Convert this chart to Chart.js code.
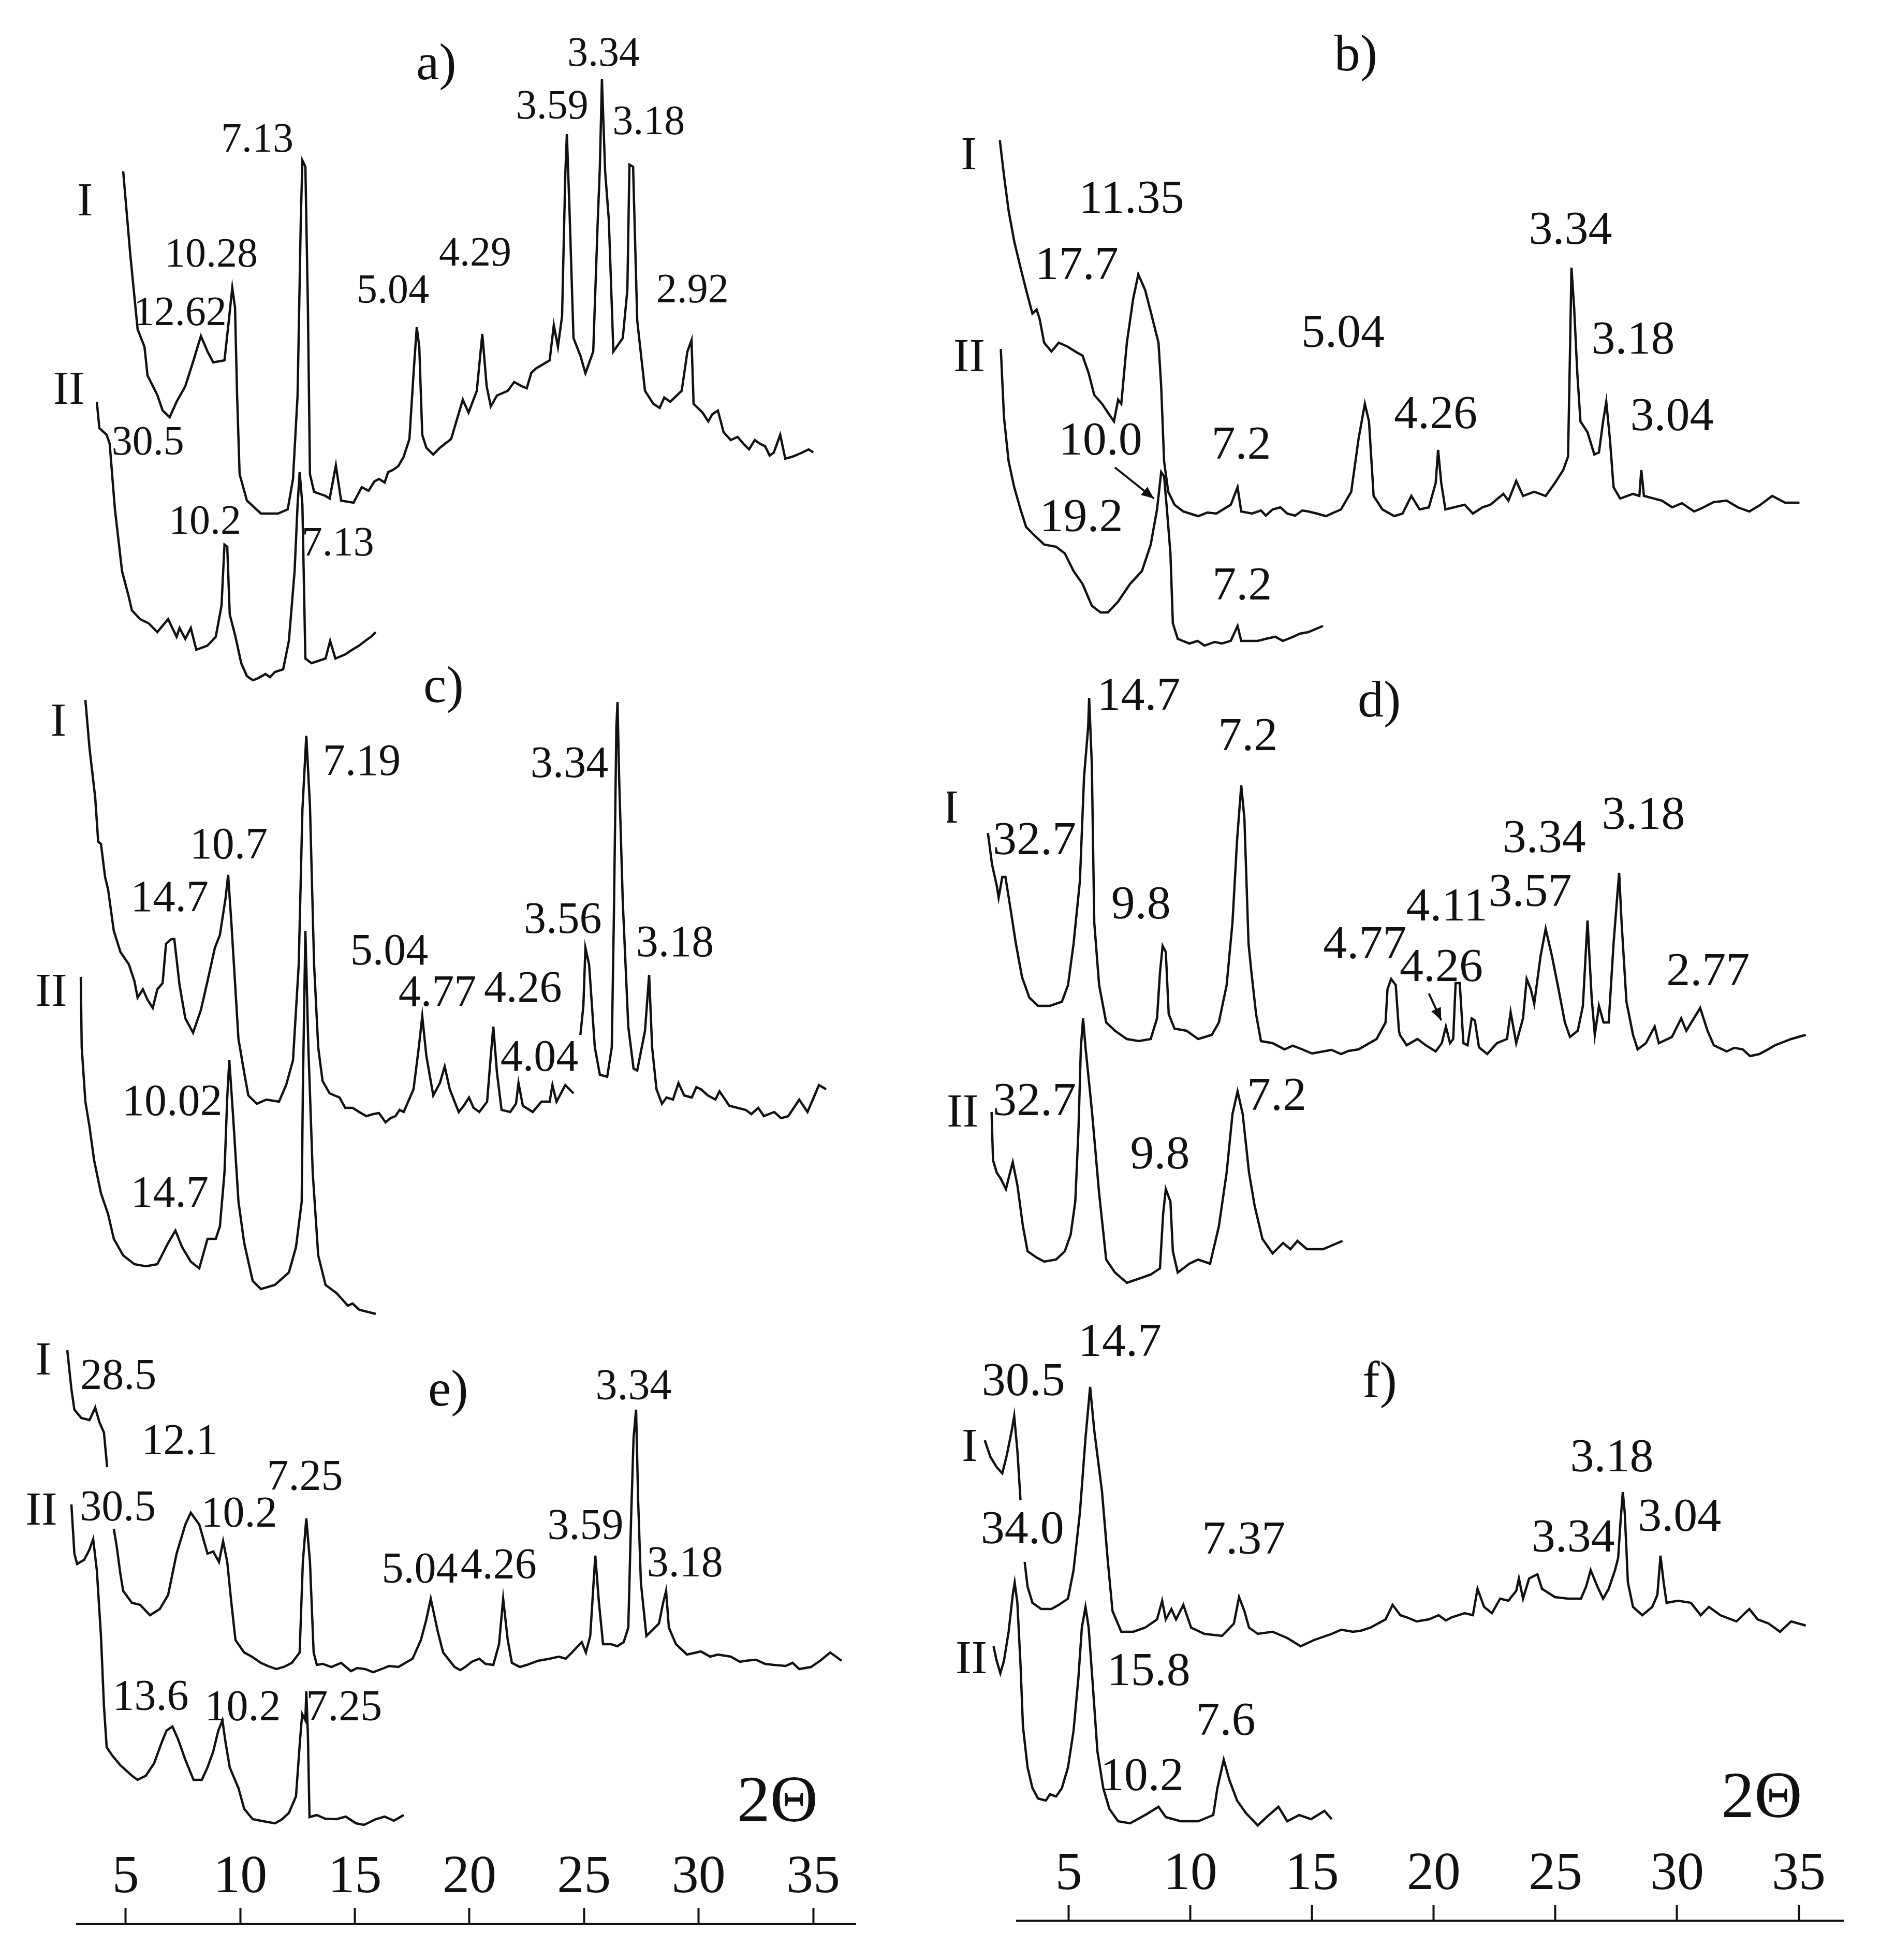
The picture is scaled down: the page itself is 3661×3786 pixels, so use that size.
<!DOCTYPE html>
<html lang="en">
<head>
<meta charset="UTF-8">
<title>XRD patterns a-f</title>
<script src="https://cdn.jsdelivr.net/npm/chart.js@4.4.0/dist/chart.umd.min.js"></script>
<style>
  body { margin: 0; background: #fff; }
  canvas { position: absolute; top: 0; }
</style>
</head>
<body>
<canvas id="left" width="1830" height="3786" style="left:0px"></canvas>
<canvas id="right" width="1831" height="3786" style="left:1830px"></canvas>
<script>
const SERIF = '"Liberation Serif", "Times New Roman", serif';
const thetaTicks = [5, 10, 15, 20, 25, 30, 35];
const thetaMin = 2.88, thetaMax = 36.85;

// traces: [2theta, intensity above own baseline]
const aI = [[4.89,669],[5.2,508],[5.52,364],[5.82,330],[5.95,275],[6.38,237],[6.61,207],[6.92,194],[7.22,224],[7.6,254],[7.96,304],[8.28,351],[8.57,321],[8.82,300],[9.31,304],[9.5,381],[9.65,444],[9.77,406],[9.86,237],[9.97,84],[10.29,33],[10.9,8],[11.64,8],[12.07,16],[12.3,75],[12.5,237],[12.64,576],[12.71,690],[12.84,678],[12.95,406],[13.04,84],[13.22,50],[13.72,42],[13.9,37],[14.17,101],[14.4,33],[14.94,29],[15.3,59],[15.6,52],[15.85,70],[16.05,75],[16.3,68],[16.45,88],[16.65,92],[16.9,100],[17.13,118],[17.38,152],[17.56,279],[17.7,368],[17.81,330],[17.94,160],[18.12,135],[18.42,122],[18.71,135],[19.2,152],[19.71,228],[19.96,203],[20.32,245],[20.56,355],[20.75,254],[20.93,215],[21.2,236],[21.67,245],[21.95,262],[22.28,254],[22.5,250],[22.7,280],[22.89,288],[23.2,296],[23.5,304],[23.68,372],[23.86,330],[24.04,389],[24.18,661],[24.25,741],[24.36,601],[24.54,347],[24.84,313],[25.06,279],[25.4,321],[25.6,576],[25.69,678],[25.78,847],[25.92,669],[26.08,576],[26.28,321],[26.69,347],[26.89,440],[26.98,682],[27.14,678],[27.32,381],[27.66,245],[28.02,220],[28.3,212],[28.5,232],[28.76,224],[29.26,245],[29.51,321],[29.69,343],[29.78,220],[30.17,203],[30.42,186],[30.6,200],[30.84,207],[31.09,165],[31.4,150],[31.7,156],[31.95,143],[32.2,132],[32.45,150],[32.67,143],[32.9,138],[33.1,120],[33.28,126],[33.56,160],[33.78,114],[34.1,118],[34.53,126],[34.8,132],[35.0,126]];
const aII = [[3.74,544],[3.85,493],[4.17,480],[4.3,463],[4.53,336],[4.84,217],[5.14,166],[5.27,141],[5.63,124],[6.0,116],[6.38,99],[6.85,124],[7.22,90],[7.35,107],[7.6,86],[7.84,107],[8.08,65],[8.57,73],[8.93,90],[9.18,150],[9.31,268],[9.43,264],[9.54,133],[9.79,90],[10.04,39],[10.29,14],[10.55,6],[10.78,10],[11.1,18],[11.3,12],[11.51,22],[11.87,27],[12.12,82],[12.37,217],[12.5,345],[12.59,408],[12.71,345],[12.84,48],[13.11,39],[13.72,48],[13.92,82],[14.15,48],[14.58,56],[14.85,64],[15.19,73],[15.45,82],[15.7,90],[15.91,99]];

const cI = [[3.24,808],[3.42,715],[3.67,619],[3.8,534],[3.92,530],[4.1,466],[4.23,442],[4.48,362],[4.77,321],[5.14,297],[5.38,265],[5.52,233],[5.75,249],[5.95,229],[6.18,213],[6.38,249],[6.61,261],[6.76,337],[6.99,346],[7.12,346],[7.35,257],[7.6,193],[7.94,165],[8.28,209],[8.57,265],[8.89,329],[9.11,354],[9.36,426],[9.47,470],[9.61,378],[9.92,153],[10.17,88],[10.35,44],[10.72,28],[11.14,36],[11.69,32],[12.0,64],[12.3,112],[12.55,297],[12.71,595],[12.88,739],[13.04,603],[13.22,297],[13.4,137],[13.59,72],[13.9,48],[14.33,40],[14.58,20],[14.9,20],[15.19,12],[15.5,4],[15.8,8],[16.05,10],[16.34,-8],[16.55,0],[16.77,4],[16.95,16],[17.13,12],[17.56,56],[17.79,137],[17.94,197],[18.12,120],[18.42,44],[18.71,68],[18.92,100],[19.14,56],[19.53,12],[19.75,24],[19.98,40],[20.18,20],[20.43,12],[20.77,32],[20.93,120],[21.04,177],[21.2,88],[21.4,16],[21.78,12],[22.03,28],[22.14,68],[22.33,24],[22.76,12],[23.14,32],[23.5,32],[23.62,64],[23.8,32],[24.18,64],[24.54,48],[24.7,null],[24.84,161],[24.97,217],[25.06,329],[25.22,297],[25.47,137],[25.69,84],[26.01,80],[26.21,137],[26.3,386],[26.41,756],[26.46,804],[26.53,659],[26.69,418],[26.93,177],[27.16,96],[27.32,92],[27.66,169],[27.84,277],[27.97,137],[28.16,56],[28.4,28],[28.6,40],[28.88,36],[29.12,68],[29.37,44],[29.7,40],[29.9,60],[30.1,56],[30.4,44],[30.73,36],[30.91,52],[31.34,24],[31.7,20],[32.06,16],[32.3,8],[32.6,20],[32.85,4],[33.06,8],[33.3,12],[33.6,0],[33.91,4],[34.39,36],[34.75,12],[35.25,64],[35.56,56]];
const cII = [[3.04,653],[3.08,517],[3.24,412],[3.42,364],[3.62,299],[3.92,235],[4.23,195],[4.48,147],[4.89,115],[5.38,98],[5.88,94],[6.38,98],[6.85,139],[7.17,163],[7.46,131],[7.84,103],[8.21,90],[8.57,147],[8.93,147],[9.11,171],[9.31,275],[9.43,420],[9.52,492],[9.68,388],[9.92,219],[10.17,139],[10.54,66],[10.9,50],[11.51,58],[12.12,82],[12.43,131],[12.68,219],[12.73,436],[12.84,742],[12.97,517],[13.16,275],[13.4,115],[13.72,58],[14.2,42],[14.45,30],[14.69,18],[14.9,22],[15.19,10],[15.55,6],[15.91,2]];

const eI = [[2.45,622],[2.63,547],[2.76,507],[3.06,491],[3.42,487],[3.67,511],[3.85,483],[4.05,463],[4.19,396],[4.33,null],[4.48,277],[4.6,245],[4.77,189],[4.89,157],[5.27,134],[5.63,130],[6.06,110],[6.49,122],[6.85,149],[7.22,229],[7.6,285],[7.84,308],[8.21,285],[8.57,229],[8.82,233],[9.07,213],[9.25,253],[9.43,213],[9.61,134],[9.79,62],[10.17,38],[10.5,30],[10.9,18],[11.2,12],[11.57,6],[11.9,10],[12.25,18],[12.59,38],[12.73,213],[12.88,297],[13.04,213],[13.2,38],[13.34,14],[13.6,16],[13.97,10],[14.4,18],[14.83,2],[15.1,8],[15.44,6],[15.8,0],[16.16,6],[16.5,12],[16.9,10],[17.52,26],[17.88,62],[18.12,102],[18.31,142],[18.62,78],[18.85,38],[19.35,10],[19.6,4],[19.82,10],[20.1,20],[20.43,26],[20.7,16],[21.04,14],[21.29,54],[21.47,142],[21.67,62],[21.85,18],[22.2,10],[22.5,14],[23.0,22],[23.5,26],[23.9,30],[24.2,26],[24.47,38],[24.9,58],[25.08,38],[25.27,70],[25.49,225],[25.65,134],[25.83,54],[26.19,54],[26.45,50],[26.73,58],[26.93,86],[27.05,293],[27.16,452],[27.27,507],[27.36,332],[27.48,173],[27.72,70],[28.27,94],[28.45,134],[28.58,157],[28.7,86],[29.01,54],[29.49,34],[30.1,40],[30.5,30],[30.84,34],[31.4,30],[31.8,20],[32.06,22],[32.5,24],[32.9,16],[33.28,14],[33.8,12],[34.1,18],[34.39,6],[34.9,10],[35.3,22],[35.74,38],[36.24,22]];
const eII = [[2.63,619],[2.76,524],[2.88,504],[3.19,512],[3.42,532],[3.58,552],[3.74,492],[3.92,365],[4.05,230],[4.17,150],[4.41,134],[4.77,115],[5.27,95],[5.52,87],[5.88,95],[6.24,119],[6.56,158],[6.78,182],[7.04,190],[7.28,166],[7.6,126],[7.96,87],[8.32,87],[8.57,111],[8.82,142],[9.04,182],[9.22,202],[9.36,158],[9.54,111],[9.92,71],[10.17,31],[10.54,11],[11.01,7],[11.51,3],[11.8,10],[12.12,23],[12.43,55],[12.61,166],[12.7,214],[12.84,202],[12.88,258],[12.95,174],[13.02,15],[13.34,19],[13.7,12],[14.2,11],[14.6,16],[15.05,3],[15.4,0],[15.91,11],[16.3,16],[16.7,8],[17.13,19]];

const bI = [[2.17,729],[2.34,661],[2.53,593],[2.76,534],[3.02,483],[3.25,440],[3.51,394],[3.68,402],[3.8,385],[3.99,338],[4.29,321],[4.59,338],[4.97,330],[5.27,321],[5.57,313],[5.82,279],[6.05,237],[6.37,220],[6.61,203],[6.86,186],[7.03,228],[7.16,220],[7.39,338],[7.65,423],[7.86,470],[8.14,440],[8.37,398],[8.69,338],[8.8,254],[8.92,109],[9.09,50],[9.35,25],[9.71,12],[10.32,3],[10.7,10],[11.07,8],[11.66,25],[11.94,59],[12.09,12],[12.53,8],[12.9,14],[13.1,4],[13.38,16],[13.7,20],[13.98,8],[14.3,4],[14.6,14],[14.85,12],[15.2,8],[15.57,3],[15.9,10],[16.19,16],[16.61,50],[16.91,152],[17.17,220],[17.34,186],[17.53,42],[17.89,16],[18.38,3],[18.72,8],[19.08,42],[19.42,16],[19.8,20],[20.08,67],[20.18,131],[20.31,67],[20.48,16],[21.27,25],[21.61,8],[22.0,20],[22.33,25],[22.86,46],[23.07,33],[23.39,71],[23.67,42],[24.13,50],[24.6,42],[24.98,67],[25.32,92],[25.52,118],[25.6,321],[25.66,483],[25.77,406],[25.9,279],[26.03,186],[26.32,165],[26.6,122],[26.79,126],[26.96,186],[27.09,224],[27.24,152],[27.39,59],[27.66,37],[28.19,46],[28.45,42],[28.53,92],[28.64,42],[29.38,33],[29.8,20],[30.2,28],[30.7,12],[31.0,18],[31.5,30],[32.04,33],[32.5,20],[32.97,12],[33.4,24],[33.91,42],[34.44,29],[35.03,29]];
const bII = [[2.21,576],[2.34,444],[2.53,359],[2.76,309],[3.02,266],[3.25,232],[3.61,215],[3.99,198],[4.48,194],[4.84,181],[5.2,147],[5.57,122],[5.95,80],[6.31,67],[6.61,67],[7.03,88],[7.52,122],[8.01,147],[8.37,198],[8.63,266],[8.8,338],[8.92,330],[9.05,258],[9.18,181],[9.28,46],[9.48,16],[9.96,7],[10.3,12],[10.58,3],[11.0,10],[11.3,7],[11.66,12],[11.94,41],[12.09,12],[12.77,12],[13.1,16],[13.49,20],[13.8,12],[14.23,20],[14.5,26],[14.85,29],[15.45,41]];

const dI = [[1.68,431],[1.85,370],[2.04,330],[2.12,306],[2.27,346],[2.4,346],[2.59,290],[2.83,217],[3.08,153],[3.38,113],[3.74,97],[4.23,97],[4.72,105],[4.97,137],[5.2,217],[5.46,338],[5.63,539],[5.8,636],[5.84,692],[5.95,563],[6.05,258],[6.25,137],[6.54,65],[6.9,49],[7.39,33],[7.88,29],[8.37,33],[8.63,73],[8.75,161],[8.86,213],[8.99,201],[9.11,81],[9.35,53],[9.84,49],[10.32,33],[10.88,41],[11.17,65],[11.49,137],[11.73,258],[11.92,418],[12.09,523],[12.22,459],[12.39,217],[12.51,161],[12.7,81],[12.9,29],[13.38,25],[13.87,13],[14.2,20],[14.6,13],[15.0,5],[15.45,9],[15.8,12],[16.19,4],[16.5,10],[16.91,13],[17.65,33],[18.02,65],[18.1,129],[18.25,149],[18.44,137],[18.57,49],[18.61,41],[18.89,21],[19.33,33],[19.67,21],[20.08,9],[20.33,25],[20.5,57],[20.67,25],[20.8,33],[20.9,141],[21.07,141],[21.22,25],[21.39,21],[21.56,73],[21.69,69],[21.86,17],[22.2,4],[22.6,25],[23.01,33],[23.16,85],[23.39,25],[23.67,73],[23.82,149],[23.99,129],[24.13,101],[24.39,193],[24.6,246],[24.86,193],[25.13,129],[25.39,65],[25.6,37],[25.92,49],[26.13,97],[26.32,262],[26.49,113],[26.62,41],[26.79,97],[26.98,65],[27.19,65],[27.39,217],[27.55,314],[27.62,354],[27.72,258],[27.92,105],[28.19,41],[28.38,13],[28.72,25],[29.08,57],[29.25,25],[29.79,37],[30.17,73],[30.38,49],[30.64,69],[30.95,93],[31.25,49],[31.51,21],[32.04,9],[32.35,16],[32.7,13],[33.0,0],[33.38,4],[33.7,12],[34.03,21],[34.69,33],[35.29,41]];
const dII = [[1.83,322],[1.89,229],[2.04,205],[2.21,193],[2.42,173],[2.59,205],[2.7,225],[2.89,181],[3.12,101],[3.31,53],[3.68,41],[3.99,33],[4.48,37],[4.84,53],[5.08,85],[5.27,149],[5.4,286],[5.5,447],[5.59,503],[5.69,447],[5.95,326],[6.25,165],[6.54,37],[6.9,12],[7.39,-8],[7.88,0],[8.37,8],[8.75,20],[8.88,125],[8.99,173],[9.18,149],[9.28,53],[9.48,12],[9.96,29],[10.32,37],[10.81,29],[11.17,101],[11.49,205],[11.73,318],[11.94,362],[12.15,318],[12.41,205],[12.64,141],[12.96,77],[13.38,49],[13.81,69],[14.11,57],[14.4,73],[14.79,57],[15.45,57],[16.25,73]];

const fI = [[1.55,383],[1.78,351],[2.04,331],[2.27,319],[2.46,355],[2.66,402],[2.76,430],[2.89,363],[3.02,267],[3.1,null],[3.19,148],[3.31,100],[3.51,69],[3.87,57],[4.29,57],[4.59,65],[4.97,77],[5.2,132],[5.46,243],[5.69,387],[5.88,486],[6.05,402],[6.37,283],[6.61,148],[6.8,53],[7.16,13],[7.65,13],[8.14,21],[8.63,37],[8.84,73],[8.99,37],[9.22,57],[9.41,37],[9.71,65],[10.03,21],[10.58,9],[11.3,5],[11.79,29],[12.0,80],[12.22,53],[12.41,21],[12.77,9],[13.38,13],[13.98,1],[14.53,-15],[15.08,-3],[15.81,9],[16.2,17],[16.68,13],[17.0,15],[17.4,21],[18.02,37],[18.31,65],[18.63,45],[18.89,41],[19.3,33],[19.8,37],[20.2,45],[20.5,35],[20.74,41],[21.27,49],[21.61,45],[21.8,96],[22.07,61],[22.39,49],[22.73,77],[23.07,73],[23.39,92],[23.5,116],[23.67,77],[23.92,116],[24.26,124],[24.45,96],[24.98,80],[25.52,77],[26.05,77],[26.26,100],[26.45,132],[26.73,100],[26.96,77],[27.19,96],[27.45,132],[27.58,156],[27.68,228],[27.77,283],[27.85,243],[27.98,108],[28.19,61],[28.57,45],[28.98,61],[29.19,84],[29.32,160],[29.45,108],[29.57,69],[30.04,73],[30.57,69],[30.97,45],[31.31,61],[31.78,45],[32.44,33],[32.97,57],[33.31,37],[33.76,29],[34.23,13],[34.69,33],[35.29,25]];
const fII = [[1.91,345],[2.04,317],[2.19,293],[2.34,317],[2.53,373],[2.7,444],[2.78,468],[2.89,429],[3.02,309],[3.12,190],[3.31,111],[3.51,71],[3.74,51],[4.06,47],[4.23,59],[4.48,55],[4.72,71],[4.97,111],[5.2,182],[5.4,285],[5.54,381],[5.69,421],[5.82,381],[5.99,270],[6.18,142],[6.42,71],[6.67,31],[7.03,7],[7.52,3],[8.14,19],[8.69,35],[8.99,15],[9.6,7],[10.32,7],[10.94,19],[11.11,71],[11.37,126],[11.6,87],[11.92,47],[12.28,23],[12.77,-1],[13.13,15],[13.62,35],[13.98,7],[14.47,19],[14.96,11],[15.51,27],[15.81,11]];

// peak labels (d-spacing, A): [text, 2theta, height above axis]
const aPeaks = [['7.13',10.74,3423],['10.28',8.73,3201],['12.62',7.37,3088],['5.04',16.66,3131],['4.29',20.25,3203],['3.59',23.61,3487],['3.34',25.85,3589],['3.18',27.82,3457],['2.92',29.73,3132],['30.5',5.97,2838],['10.2',8.46,2685],['7.13',14.26,2643]];
const cPeaks = [['14.7',6.92,1956],['10.7',9.5,2058],['7.19',15.3,2219],['5.04',16.5,1853],['4.77',18.6,1773],['4.26',22.33,1781],['4.04',23.05,1648],['3.56',24.07,1914],['3.34',24.36,2215],['3.18',28.97,1869],['10.02',7.03,1562],['14.7',6.92,1385]];
const ePeaks = [['28.5',4.68,1033],['12.1',7.35,907],['30.5',4.66,779],['10.2',9.95,767],['7.25',12.82,838],['5.04',17.83,659],['4.26',21.27,667],['3.59',25.06,743],['3.34',27.16,1013],['3.18',29.4,671],['13.6',6.09,413],['10.2',10.11,393],['7.25',14.53,393]];
const bPeaks = [['11.35',7.58,3299],['17.7',5.33,3171],['5.04',16.27,3040],['4.26',20.08,2883],['3.34',25.62,3239],['3.18',28.19,3027],['3.04',29.79,2879],['7.2',12.09,2824],['10.0',6.31,2832],['19.2',5.52,2684],['7.2',12.13,2552]];
const dPeaks = [['14.7',7.88,2339],['7.2',12.36,2261],['32.7',3.59,2060],['9.8',7.97,1936],['4.77',17.17,1859],['4.11',20.54,1932],['4.26',20.31,1815],['3.57',23.96,1960],['3.34',24.54,2064],['3.18',28.62,2109],['2.77',31.27,1807],['32.7',3.59,1556],['9.8',8.75,1453],['7.2',13.55,1566]];
const fPeaks = [['30.5',3.14,1015],['14.7',7.1,1091],['7.37',12.19,709],['3.34',25.73,713],['3.18',27.32,868],['3.04',30.1,753],['34.0',3.1,729],['15.8',8.29,455],['7.6',11.45,359],['10.2',8.01,252]];

const leftNames = [['I',3.22,3300],['II',2.52,2936],['I',2.06,2295],['II',1.75,1773],['I',1.41,1061],['II',1.32,771]];
const rightNames = [['I',0.89,3383],['II',0.91,2993],['I',0.15,2121],['II',0.64,1534],['I',0.93,888],['II',1.0,478]];
const leftPanels = [['a)',18.55,3563],['c)',18.87,2360],['e)',19.07,1001]];
const rightPanels = [['b)',16.8,3574],['d)',17.76,2326],['f)',17.78,1011]];
const leftAxisTitle = [['2Θ',33.44,198]];
const rightAxisTitle = [['2Θ',33.48,200]];
const rightArrows = [[6.9,2807,8.5,2747],[19.8,1791,20.31,1739]];

function labelPlugin(groups, arrows) {
  return {
    id: 'peakLabels',
    afterDatasetsDraw(chart) {
      const {ctx, scales: {x, y}} = chart;
      ctx.save();
      ctx.fillStyle = '#111';
      ctx.textAlign = 'center';
      ctx.textBaseline = 'alphabetic';
      groups.forEach(g => {
        ctx.font = g.size + 'px ' + SERIF;
        g.items.forEach(([t, tx, ty]) => ctx.fillText(t, x.getPixelForValue(tx), y.getPixelForValue(ty)));
      });
      ctx.strokeStyle = '#111';
      ctx.lineWidth = 4;
      arrows.forEach(([x1, y1, x2, y2]) => {
        const px1 = x.getPixelForValue(x1), py1 = y.getPixelForValue(y1);
        const px2 = x.getPixelForValue(x2), py2 = y.getPixelForValue(y2);
        const ang = Math.atan2(py2 - py1, px2 - px1);
        ctx.beginPath();
        ctx.moveTo(px1, py1);
        ctx.lineTo(px2, py2);
        ctx.stroke();
        ctx.beginPath();
        ctx.moveTo(px2, py2);
        ctx.lineTo(px2 - 26 * Math.cos(ang - 0.4), py2 - 26 * Math.sin(ang - 0.4));
        ctx.lineTo(px2 - 26 * Math.cos(ang + 0.4), py2 - 26 * Math.sin(ang + 0.4));
        ctx.closePath();
        ctx.fill();
      });
      ctx.restore();
    }
  };
}

function makeChart(id, traces, groups, arrows, axisY, pad) {
  const datasets = traces.map(t => ({
    data: t.data.map(p => ({x: p[0], y: p[1] === null ? null : p[1] + t.base})),
    borderColor: '#111',
    borderWidth: 4.5,
    pointRadius: 0,
    tension: 0,
    fill: false,
    spanGaps: false,
    clip: false
  }));
  return new Chart(document.getElementById(id), {
    type: 'line',
    data: {datasets},
    options: {
      responsive: false,
      animation: false,
      events: [],
      layout: {padding: pad},
      plugins: {legend: {display: false}, tooltip: {enabled: false}},
      scales: {
        x: {
          type: 'linear', position: 'bottom', bounds: 'data',
          // range set here (not via min/max) so points left of the axis start are still drawn
          afterDataLimits: s => { s.min = thetaMin; s.max = thetaMax; },
          afterBuildTicks: s => {
            s.min = thetaMin; s.max = thetaMax;
            s.ticks = thetaTicks.map(v => ({value: v}));
          },
          afterFit: s => { s.height = 0; },
          border: {display: true, color: '#111', width: 4},
          grid: {display: true, drawOnChartArea: false, drawTicks: true, tickLength: -30, tickColor: '#111', tickWidth: 4},
          ticks: {mirror: true, padding: 26, autoSkip: false, maxRotation: 0, color: '#111',
                  font: {family: SERIF, size: 104}, callback: v => String(v)}
        },
        y: {type: 'linear', display: false, min: 0, max: axisY}
      }
    },
    plugins: [labelPlugin(groups, arrows)]
  });
}

makeChart('left',
  [{data: aI, base: 2716}, {data: aII, base: 2396}, {data: cI, base: 1556},
   {data: cII, base: 1176}, {data: eI, base: 486}, {data: eII, base: 191}],
  [{items: aPeaks, size: 80}, {items: cPeaks, size: 86}, {items: ePeaks, size: 84},
   {items: leftNames, size: 92}, {items: leftPanels, size: 100}, {items: leftAxisTitle, size: 128}],
  [], 3716, {left: 149, right: 177, top: 0, bottom: 70});

makeChart('right',
  [{data: bI, base: 2710}, {data: bII, base: 2460}, {data: dI, base: 1670},
   {data: dII, base: 1240}, {data: fI, base: 545}, {data: fII, base: 185}],
  [{items: bPeaks, size: 92}, {items: dPeaks, size: 92}, {items: fPeaks, size: 92},
   {items: rightNames, size: 92}, {items: rightPanels, size: 100}, {items: rightAxisTitle, size: 128}],
  rightArrows, 3710, {left: 135, right: 99, top: 0, bottom: 76});
</script>
</body>
</html>
